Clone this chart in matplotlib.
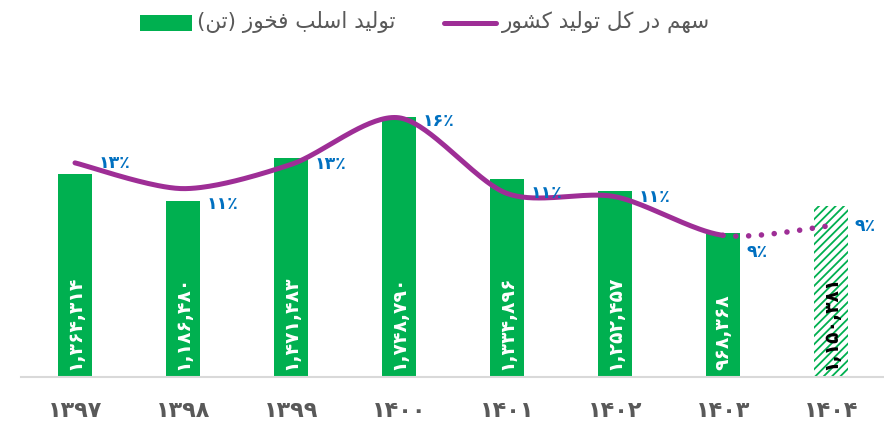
import numpy as np
import matplotlib
matplotlib.use("Agg")
import matplotlib.pyplot as plt
from matplotlib.patches import Rectangle
from matplotlib.lines import Line2D

# ---------------- data ----------------
years = ["۱۳۹۷", "۱۳۹۸", "۱۳۹۹", "۱۴۰۰", "۱۴۰۱", "۱۴۰۲", "۱۴۰۳", "۱۴۰۴"]
production = [1364314, 1186480, 1471483, 1748790, 1334896, 1252457, 968368, 1150381]
share = [13.3, 11.7, 13.2, 16.1, 11.4, 11.2, 8.8, 9.4]
share_labels = [13, 11, 13, 16, 11, 11, 9, 9]
forecast = [False, False, False, False, False, False, False, True]
legend_bar = "تولید اسلب فخوز (تن)"
legend_line = "سهم در کل تولید کشور"

# ---------------- style ----------------
GREEN = "#00B050"
PURPLE = "#9E2E96"
BLUE = "#0070C0"
GRAY = "#595959"
FONT = ["DejaVu Sans"]
plt.rcParams["font.family"] = FONT
plt.rcParams["hatch.linewidth"] = 1.3

FA_DIGITS = str.maketrans("0123456789", "۰۱۲۳۴۵۶۷۸۹")


def fa(s):
    return str(s).translate(FA_DIGITS)


FORMS = {
    'ا': ('\uFE8D', '\uFE8E', None, None),
    'ب': ('\uFE8F', '\uFE90', '\uFE91', '\uFE92'),
    'ت': ('\uFE95', '\uFE96', '\uFE97', '\uFE98'),
    'خ': ('\uFEA5', '\uFEA6', '\uFEA7', '\uFEA8'),
    'د': ('\uFEA9', '\uFEAA', None, None),
    'ر': ('\uFEAD', '\uFEAE', None, None),
    'ز': ('\uFEAF', '\uFEB0', None, None),
    'س': ('\uFEB1', '\uFEB2', '\uFEB3', '\uFEB4'),
    'ش': ('\uFEB5', '\uFEB6', '\uFEB7', '\uFEB8'),
    'ف': ('\uFED1', '\uFED2', '\uFED3', '\uFED4'),
    'ل': ('\uFEDD', '\uFEDE', '\uFEDF', '\uFEE0'),
    'م': ('\uFEE1', '\uFEE2', '\uFEE3', '\uFEE4'),
    'ن': ('\uFEE5', '\uFEE6', '\uFEE7', '\uFEE8'),
    'ه': ('\uFEE9', '\uFEEA', '\uFEEB', '\uFEEC'),
    'و': ('\uFEED', '\uFEEE', None, None),
    'ک': ('\uFB8E', '\uFB8F', '\uFB90', '\uFB91'),
    'ی': ('\uFBFC', '\uFBFD', '\uFBFE', '\uFBFF'),
}


def rtl(s):
    out = []
    n = len(s)
    for i, c in enumerate(s):
        if c not in FORMS:
            out.append(c)
            continue
        iso, fin, ini, med = FORMS[c]
        prev = s[i - 1] if i > 0 else None
        nxt = s[i + 1] if i < n - 1 else None
        jp = prev in FORMS and FORMS[prev][2] is not None
        jn = nxt in FORMS and ini is not None
        if jp and jn:
            out.append(med)
        elif jp:
            out.append(fin)
        elif jn:
            out.append(ini)
        else:
            out.append(iso)
    vis = "".join(out)[::-1]
    return vis.translate(str.maketrans("()", ")("))


def catmull(xs, ys, n=40, k=7.0):
    P = np.column_stack([xs, ys]).astype(float)
    P = np.vstack([P[0], P, P[-1]])
    segs = []
    for i in range(1, len(P) - 2):
        p0, p1, p2, p3 = P[i - 1], P[i], P[i + 1], P[i + 2]
        c1 = p1 + (p2 - p0) / k
        c2 = p2 - (p3 - p1) / k
        t = np.linspace(0, 1, n)[:, None]
        b = ((1 - t) ** 3) * p1 + 3 * ((1 - t) ** 2) * t * c1 + 3 * (1 - t) * t ** 2 * c2 + t ** 3 * p2
        segs.append(b)
    return segs


W, H = 884, 432
fig = plt.figure(figsize=(W / 100, H / 100), dpi=100)
ax = fig.add_axes([21 / W, (H - 377) / H, 864 / W, 317 / H])
ax2 = ax.twinx()

x = np.arange(len(years))
bw = 0.315
for i in x:
    if forecast[i]:
        ax.bar(i, production[i], bw, color="white", edgecolor=GREEN, hatch="////", linewidth=0, zorder=2)
    else:
        ax.bar(i, production[i], bw, color=GREEN, linewidth=0, zorder=2)
    ax.annotate(fa(f"{production[i]:,}"), (i, 0), xytext=(0, 5), textcoords="offset points",
                rotation=90, ha="center", va="bottom", fontsize=13.5, fontweight="bold",
                color=("black" if forecast[i] else "white"), zorder=5)

ax.set_xlim(-0.5, len(years) - 0.5)
ax.set_ylim(0, 317 * 6726)
ax2.set_ylim(0, 317 / 16.1)

# smoothed line
segs = catmull(x, share)
solid = np.vstack([s for i, s in enumerate(segs) if not forecast[i + 1]])
dotted = np.vstack([s for i, s in enumerate(segs) if forecast[i + 1]])
ax2.plot(solid[:, 0], solid[:, 1], color=PURPLE, lw=3.6, solid_capstyle="round", zorder=4)
ax2.plot(dotted[:, 0], dotted[:, 1], color=PURPLE, lw=4.0, linestyle=(0, (0.01, 2.3)),
         dash_capstyle="round", zorder=4)

label_dy = [0, -11, 0, -2, 0, 0, -12, 0]
for i in x:
    ax2.annotate(fa(share_labels[i]) + "٪", (i, share[i]), xytext=(17, label_dy[i]),
                 textcoords="offset points", ha="left", va="center", fontsize=12.5,
                 fontweight="bold", color=BLUE, zorder=6)

for a in (ax, ax2):
    for s in ("top", "right", "left"):
        a.spines[s].set_visible(False)
    a.set_yticks([])
ax2.spines["bottom"].set_visible(False)
ax.spines["bottom"].set_color("#D9D9D9")
ax.spines["bottom"].set_linewidth(1.5)
ax.set_xticks(x)
ax.set_xticklabels(years, fontsize=16, fontweight="bold", color=GRAY)
ax.tick_params(axis="x", length=0, pad=17)

# legend (overlay in pixel coords)
ov = fig.add_axes([0, 0, 1, 1])
ov.set_xlim(0, W)
ov.set_ylim(H, 0)
ov.axis("off")
ov.patch.set_alpha(0)
ov.add_patch(Rectangle((140, 15), 52, 16, color=GREEN, lw=0))
ov.text(197, 22, rtl(legend_bar), fontsize=15.5, color=GRAY, ha="left", va="center")
ov.add_line(Line2D([444, 496], [23, 23], color=PURPLE, lw=3.6, solid_capstyle="round"))
ov.text(502, 22, rtl(legend_line), fontsize=15.5, color=GRAY, ha="left", va="center")

fig.savefig("out.png", dpi=100)
